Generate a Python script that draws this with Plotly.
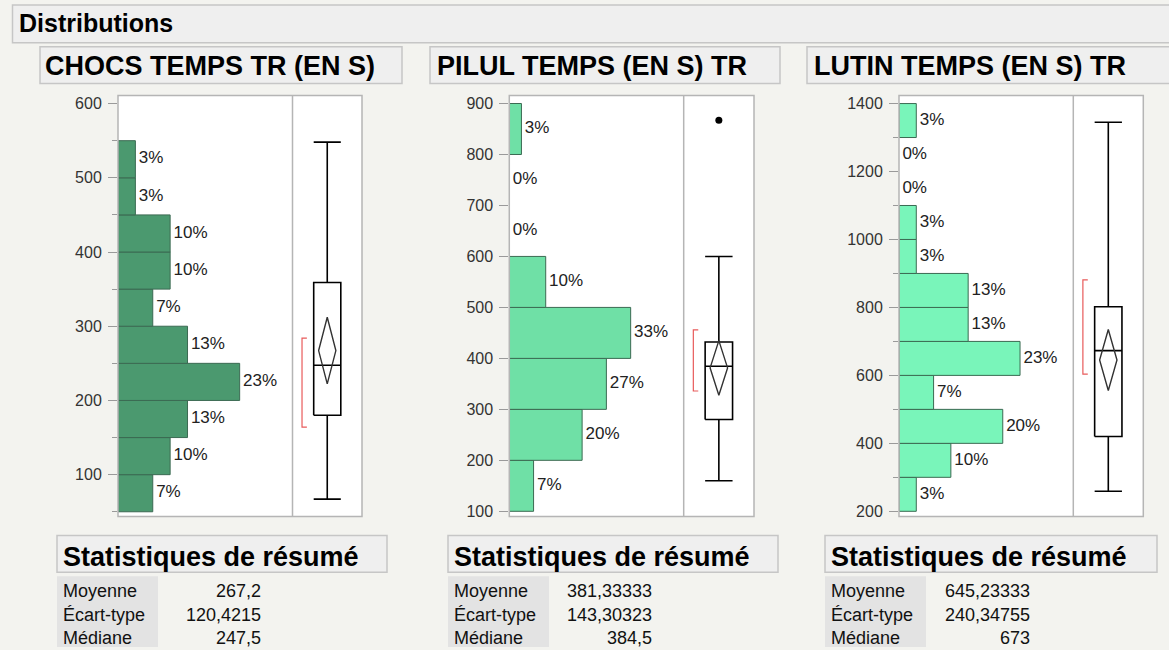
import math
import plotly.graph_objects as go

W, H = 1169, 650

# ---------------- data ----------------
titles = ["CHOCS TEMPS TR (EN S)", "PILUL TEMPS (EN S) TR", "LUTIN TEMPS (EN S) TR"]
n_obs = 30

bins_1 = [50, 100, 150, 200, 250, 300, 350, 400, 450, 500]
counts_1 = [2, 3, 4, 7, 4, 2, 3, 3, 1, 1]
bins_2 = [100, 200, 300, 400, 500, 600, 700, 800]
counts_2 = [2, 6, 8, 10, 3, 0, 0, 1]
bins_3 = [200, 300, 400, 500, 600, 700, 800, 900, 1000, 1100, 1200, 1300]
counts_3 = [1, 3, 6, 2, 7, 4, 4, 1, 1, 0, 0, 1]
bin_widths = [50, 100, 100]

lower_whisker = [67, 160, 259]
q1_vals = [180, 280, 420]
median_vals = [247.5, 384.5, 673]
q3_vals = [359, 432, 802]
upper_whisker = [548, 600, 1345]
outliers = [[], [867], []]
mean_vals = [267.2, 381.33333, 645.23333]
sd_vals = [120.4215, 143.30323, 240.34755]
shortest_half = [[164, 284], [336, 456], [604, 881]]
t_crit = 2.0452  # t(0.975, 29)

stat_labels = ["Moyenne", "Écart-type", "Médiane"]
stat_values = [["267,2", "120,4215", "247,5"],
               ["381,33333", "143,30323", "384,5"],
               ["645,23333", "240,34755", "673"]]

y_ranges = [[43.5, 610.8], [89.6, 915.6], [184.4, 1423.5]]
y_dticks = [100, 100, 200]
y_minor = [50, None, 100]
hist_xmax = [10.04, 14.37, 10.08]

bar_colors = ["#4b996f", "#6fe0a6", "#79f5ba"]
bar_line = "#3b6a52"

# ---------------- geometry (pixels) ----------------
hist_x0 = [118, 509.3, 899]
div_x = [292.5, 683.7, 1073.3]
right_x = [362, 754, 1143.3]
y_top, y_bot = 96, 519

title_box = [[40, 402], [430, 780], [807, 1180]]
title_text_x = [43, 435, 812]
stat_box = [[57, 387], [448, 778], [825, 1157]]
label_col_w = 101
value_right = [263, 654, 1032]

FONT = "Liberation Sans, Arial, sans-serif"


def PX(x):
    return x / W


def PY(y):
    return 1 - y / H


fig = go.Figure()
layout = dict(
    width=W, height=H, margin=dict(l=0, r=0, t=0, b=0),
    paper_bgcolor="#f3f3ef", plot_bgcolor="white", showlegend=False,
    font=dict(family=FONT, color="#222"), barmode="overlay",
)

all_bins = [bins_1, bins_2, bins_3]
all_counts = [counts_1, counts_2, counts_3]
shapes = []
annotations = []

for i in range(3):
    hx = "x" if i == 0 else f"x{2*i+1}"
    bx = f"x{2*i+2}"
    yy = "y" if i == 0 else f"y{i+1}"
    hk = "xaxis" if i == 0 else f"xaxis{2*i+1}"
    bk = f"xaxis{2*i+2}"
    yk = "yaxis" if i == 0 else f"yaxis{i+1}"

    bw = bin_widths[i]
    centers = [b + bw / 2 for b in all_bins[i]]
    counts = all_counts[i]
    nz = [(c, n) for c, n in zip(centers, counts) if n > 0]
    fig.add_trace(go.Bar(
        orientation="h", y=[c for c, _ in nz], x=[n for _, n in nz], width=bw,
        marker=dict(color=bar_colors[i], line=dict(color=bar_line, width=1)),
        xaxis=hx, yaxis=yy, hoverinfo="skip"))
    labels = [f"{round(n / n_obs * 100)}%" for n in counts]
    fig.add_trace(go.Scatter(
        x=counts, y=centers, mode="text", text=["\u2009" + t for t in labels],
        textposition="middle right",
        textfont=dict(size=17, color="#222", family=FONT), cliponaxis=False,
        xaxis=hx, yaxis=yy, hoverinfo="skip"))

    # box plot
    c = 0.5
    hw = 0.195
    lw = lower_whisker[i]; uw = upper_whisker[i]
    q1 = q1_vals[i]; q3 = q3_vals[i]; md = median_vals[i]
    box_x = [c - hw, c + hw, c + hw, c - hw, c - hw, None,
             c - hw, c + hw, None,
             c, c, None, c, c, None,
             c - hw, c + hw, None, c - hw, c + hw]
    box_y = [q1, q1, q3, q3, q1, None,
             md, md, None,
             q3, uw, None, q1, lw, None,
             uw, uw, None, lw, lw]
    fig.add_trace(go.Scatter(x=box_x, y=box_y, mode="lines",
                             line=dict(color="black", width=1.6),
                             xaxis=bx, yaxis=yy, hoverinfo="skip"))
    ci = t_crit * sd_vals[i] / math.sqrt(n_obs)
    m = mean_vals[i]
    dw = 0.124
    fig.add_trace(go.Scatter(x=[c, c + dw, c, c - dw, c],
                             y=[m + ci, m, m - ci, m, m + ci], mode="lines",
                             line=dict(color="#333", width=1.4),
                             xaxis=bx, yaxis=yy, hoverinfo="skip"))
    sh = shortest_half[i]
    bxp = 0.137
    fig.add_trace(go.Scatter(x=[bxp + 0.07, bxp, bxp, bxp + 0.07],
                             y=[sh[1], sh[1], sh[0], sh[0]], mode="lines",
                             line=dict(color="#e85a5a", width=1.2),
                             xaxis=bx, yaxis=yy, hoverinfo="skip"))
    if outliers[i]:
        fig.add_trace(go.Scatter(x=[c] * len(outliers[i]), y=outliers[i], mode="markers",
                                 marker=dict(color="black", size=7),
                                 xaxis=bx, yaxis=yy, hoverinfo="skip"))

    ydom = [PY(y_bot), PY(y_top)]
    layout[hk] = dict(domain=[PX(hist_x0[i]), PX(div_x[i])], range=[0, hist_xmax[i]],
                      showticklabels=False, showgrid=False, zeroline=False,
                      ticks="", showline=False, anchor=yy, fixedrange=True)
    layout[bk] = dict(domain=[PX(div_x[i]), PX(right_x[i])], range=[0, 1],
                      showticklabels=False, showgrid=False, zeroline=False,
                      ticks="", showline=False, anchor=yy, fixedrange=True)
    yax = dict(domain=ydom, range=y_ranges[i], anchor=hx, dtick=y_dticks[i],
               showgrid=False, zeroline=False, showline=False,
               ticks="outside", ticklen=9, tickwidth=1, tickcolor="#9a9a9a",
               tickfont=dict(size=16, color="#333", family=FONT),
               ticklabelstandoff=3, fixedrange=True)
    if y_minor[i]:
        yax["minor"] = dict(dtick=y_minor[i], ticks="outside", ticklen=5,
                            tickcolor="#9a9a9a", showgrid=False)
    layout[yk] = yax

    # frames
    shapes.append(dict(type="rect", xref="paper", yref="paper",
                       x0=PX(hist_x0[i]), x1=PX(right_x[i]), y0=PY(y_bot), y1=PY(y_top),
                       line=dict(color="#b5b5b5", width=1.5), layer="above"))
    shapes.append(dict(type="line", xref="paper", yref="paper",
                       x0=PX(div_x[i]), x1=PX(div_x[i]), y0=PY(y_bot), y1=PY(y_top),
                       line=dict(color="#b5b5b5", width=1.5), layer="above"))

    # title box
    shapes.append(dict(type="rect", xref="paper", yref="paper",
                       x0=PX(title_box[i][0]), x1=PX(title_box[i][1]), y0=PY(84), y1=PY(47),
                       fillcolor="#efefef", line=dict(color="#c6c6c6", width=1.5), layer="below"))
    annotations.append(dict(xref="paper", yref="paper", x=PX(title_text_x[i]), y=PY(66),
                            xanchor="left", yanchor="middle", showarrow=False,
                            text=f"<b>{titles[i]}</b>",
                            font=dict(size=27, color="black", family=FONT)))

    # stats box
    sb = stat_box[i]
    shapes.append(dict(type="rect", xref="paper", yref="paper",
                       x0=PX(sb[0]), x1=PX(sb[1]), y0=PY(575), y1=PY(538),
                       fillcolor="#efefef", line=dict(color="#c6c6c6", width=1.5), layer="below"))
    annotations.append(dict(xref="paper", yref="paper", x=PX(sb[0] + 4), y=PY(560),
                            xanchor="left", yanchor="middle", showarrow=False,
                            text="<b>Statistiques de résumé</b>",
                            font=dict(size=27, color="black", family=FONT)))
    shapes.append(dict(type="rect", xref="paper", yref="paper",
                       x0=PX(sb[0]), x1=PX(sb[0] + label_col_w), y0=PY(650), y1=PY(579),
                       fillcolor="#e3e3e3", line=dict(width=0), layer="below"))
    for r, (lab, val) in enumerate(zip(stat_labels, stat_values[i])):
        yrow = 594 + r * 23.5
        annotations.append(dict(xref="paper", yref="paper", x=PX(sb[0] + 4), y=PY(yrow),
                                xanchor="left", yanchor="middle", showarrow=False, text=lab,
                                font=dict(size=18, color="#111", family=FONT)))
        annotations.append(dict(xref="paper", yref="paper", x=PX(value_right[i]), y=PY(yrow),
                                xanchor="right", yanchor="middle", showarrow=False, text=val,
                                font=dict(size=18, color="#111", family=FONT)))

# Distributions header
shapes.append(dict(type="rect", xref="paper", yref="paper",
                   x0=PX(12.5), x1=PX(1180), y0=PY(43), y1=PY(5),
                   fillcolor="#efefef", line=dict(color="#c6c6c6", width=1.5), layer="below"))
annotations.append(dict(xref="paper", yref="paper", x=PX(17), y=PY(23),
                        xanchor="left", yanchor="middle", showarrow=False,
                        text="<b>Distributions</b>",
                        font=dict(size=25, color="black", family=FONT)))

layout["shapes"] = shapes
layout["annotations"] = annotations
fig.update_layout(**layout)
fig.write_html("out.html", config={"displayModeBar": False},
               post_script="document.body.style.margin='0px';document.body.style.overflow='hidden';")
